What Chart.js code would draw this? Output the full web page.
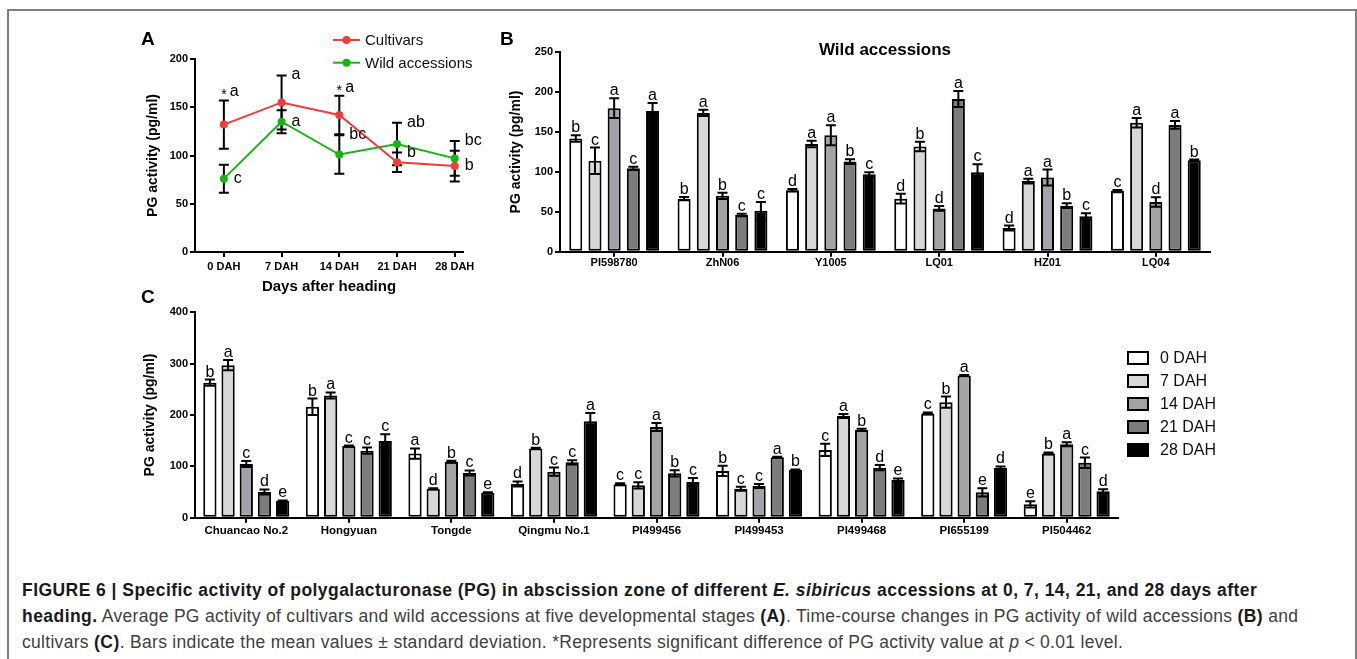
<!DOCTYPE html>
<html>
<head>
<meta charset="utf-8">
<script src="https://cdn.jsdelivr.net/npm/chart.js@4.4.1/dist/chart.umd.min.js"></script>
<style>
  body { margin:0; width:1357px; height:659px; background:#fff; position:relative; overflow:hidden; font-family:"Liberation Sans", Arial, sans-serif; }
  .frame { position:absolute; left:7px; top:9px; width:1350px; height:700px; border:2px solid #7f7f7f; box-sizing:border-box; }
  .panel { position:absolute; font-weight:bold; font-size:19px; line-height:1; color:#000; z-index:2; }
  canvas { position:absolute; }
  .cap { position:absolute; left:22px; top:577px; font-size:17.5px; letter-spacing:0.3px; line-height:26px; color:#404040; white-space:nowrap; }
  .cap b { color:#1a1a1a; letter-spacing:0.45px; }
</style>
</head>
<body>
<div class="frame"></div>
<canvas id="chartA" width="360" height="270" style="left:130px;top:30px"></canvas>
<canvas id="chartB" width="720" height="275" style="left:500px;top:25px"></canvas>
<canvas id="chartC" width="1120" height="240" style="left:130px;top:300px"></canvas>
<div class="panel" style="left:141px;top:29px">A</div>
<div class="panel" style="left:500px;top:29px">B</div>
<div class="panel" style="left:141px;top:287px">C</div>
<div class="cap">
<b>FIGURE 6 | Specific activity of polygalacturonase (PG) in abscission zone of different <i>E. sibiricus</i> accessions at 0, 7, 14, 21, and 28 days after</b><br>
<b>heading.</b> Average PG activity of cultivars and wild accessions at five developmental stages <b>(A)</b>. Time-course changes in PG activity of wild accessions <b>(B)</b> and<br>
cultivars <b>(C)</b>. Bars indicate the mean values ± standard deviation. *Represents significant difference of PG activity value at <i>p</i> &lt; 0.01 level.
</div>
<script>
// ---- panel A data
const daysA = [0, 7, 14, 21, 28]
const dahLabels = ['0 DAH', '7 DAH', '14 DAH', '21 DAH', '28 DAH']
const cultMean = [132, 155, 142, 93, 89]
const cultSD = [25, 28, 20, 10, 16]
const cultLetters = ['*a', 'a', '*a', 'b', 'b']
const wildMean = [76, 135, 101, 112, 97]
const wildSD = [14.5, 12, 20, 22, 18]
const wildLetters = ['c', 'a', 'bc', 'ab', 'bc']

// ---- panel B data (wild accessions)
const wildNames = ['PI598780', 'ZhN06', 'Y1005', 'LQ01', 'HZ01', 'LQ04']
const wild0 = [142, 66.5, 77, 66.5, 29.7, 76]
const wild0sd = [4, 2, 1.5, 6, 3, 1.5]
const wild0let = ['b', 'b', 'd', 'd', 'd', 'c']
const wild7 = [114, 174, 135, 132, 88.6, 161.6]
const wild7sd = [16.5, 4, 4, 6, 3, 6]
const wild7let = ['c', 'a', 'a', 'b', 'a', 'a']
const wild14 = [180, 70, 146, 54.3, 93, 62.3]
const wild14sd = [12.5, 4, 12.5, 3, 10, 6]
const wild14let = ['a', 'b', 'a', 'd', 'a', 'd']
const wild21 = [104.5, 46, 113, 191.5, 57.7, 159]
const wild21sd = [2, 1.5, 3, 10, 3, 5]
const wild21let = ['c', 'c', 'b', 'a', 'b', 'a']
const wild28 = [176.4, 51.4, 97, 99.5, 44.3, 114.5]
const wild28sd = [10, 11, 2.5, 10, 4, 1]
const wild28let = ['a', 'c', 'c', 'c', 'c', 'b']

// ---- panel C data (cultivars)
const cultNames = ['Chuancao No.2', 'Hongyuan', 'Tongde', 'Qingmu No.1', 'PI499456', 'PI499453', 'PI499468', 'PI655199', 'PI504462']
const cult0 = [263, 216, 125, 65.6, 65, 91, 132, 203, 26]
const cult0sd = [6, 16, 10, 5, 2, 10, 12, 2, 6]
const cult0let = ['b', 'b', 'a', 'd', 'c', 'b', 'c', 'c', 'e']
const cult7 = [297, 238, 56.5, 135, 63, 56.5, 198, 225, 125]
const cult7sd = [10, 6, 1, 1, 6, 4, 4, 11, 2]
const cult7let = ['a', 'a', 'd', 'b', 'c', 'c', 'a', 'b', 'b']
const cult14 = [104.5, 139.6, 109, 89.6, 176.6, 61.7, 171, 277, 143]
const cult14sd = [6, 1, 2, 8, 8, 4, 2, 1, 4]
const cult14let = ['c', 'c', 'b', 'c', 'a', 'c', 'b', 'a', 'a']
const cult21 = [50, 130.5, 87, 107.8, 86.4, 117.5, 97.4, 49.4, 107]
const cult21sd = [5, 6, 5, 4, 6, 1, 5, 8, 10]
const cult21let = ['d', 'c', 'c', 'c', 'b', 'a', 'd', 'e', 'c']
const cult28 = [32.5, 149.4, 48.7, 188, 69.5, 93, 73.4, 96.8, 51.3]
const cult28sd = [1, 13, 1, 16, 8, 1, 3, 3, 4]
const cult28let = ['e', 'c', 'e', 'a', 'c', 'b', 'e', 'd', 'd']

const stageNames = ['0 DAH', '7 DAH', '14 DAH', '21 DAH', '28 DAH']
const stageFill = ['#ffffff', '#d8d8d8', '#a3a3a7', '#7c7c7c', '#000000']

const FONT = "'Liberation Sans', Arial, sans-serif"
Chart.defaults.font.family = FONT
Chart.defaults.color = '#000'

const valOf = (d) => (typeof d === 'object' ? d.y : d)

// error bars + letters
const errPlugin = {
    id: 'errbars',
    beforeDatasetsDraw(chart, args, opts) {
        if (opts.under) drawErr(chart)
    },
    afterDatasetsDraw(chart, args, opts) {
        if (!opts.under) drawErr(chart)
        drawLetters(chart, opts)
    }
}
function drawErr(chart) {
    const ctx = chart.ctx
    const ys = chart.scales.y
    chart.data.datasets.forEach((ds, di) => {
        const meta = chart.getDatasetMeta(di)
        ctx.save()
        ctx.strokeStyle = '#000'
        ctx.lineWidth = 2
        meta.data.forEach((el, i) => {
            const v = valOf(ds.data[i])
            const sd = ds.sd[i]
            const top = ys.getPixelForValue(v + sd)
            const bot = ys.getPixelForValue(v - sd)
            ctx.beginPath()
            ctx.moveTo(el.x, top); ctx.lineTo(el.x, bot)
            ctx.moveTo(el.x - 5, top); ctx.lineTo(el.x + 5, top)
            ctx.moveTo(el.x - 5, bot); ctx.lineTo(el.x + 5, bot)
            ctx.stroke()
        })
        ctx.restore()
    })
}
function drawLetters(chart, opts) {
    const ctx = chart.ctx
    const ys = chart.scales.y
    ctx.save()
    ctx.fillStyle = '#000'
    chart.data.datasets.forEach((ds, di) => {
        const meta = chart.getDatasetMeta(di)
        meta.data.forEach((el, i) => {
            const v = valOf(ds.data[i])
            let txt = ds.letters[i]
            const capY = ys.getPixelForValue(v + ds.sd[i])
            const place = opts.place ? opts.place[di][i] : 'bar'
            if (place === 'bar') {
                ctx.font = '16px ' + FONT
                ctx.textAlign = 'center'
                ctx.textBaseline = 'alphabetic'
                ctx.fillText(txt, el.x, capY - 3)
                return
            }
            if (place === 'above') {
                ctx.font = '14px ' + FONT
                ctx.textAlign = 'center'
                ctx.textBaseline = 'alphabetic'
                ctx.fillText('*', el.x, capY - 1)
                ctx.font = '16px ' + FONT
                ctx.textAlign = 'left'
                ctx.fillText(txt.replace('*', ''), el.x + 6, capY - 4)
                return
            }
            const y = place === 'cap' ? capY : el.y
            ctx.font = '16px ' + FONT
            ctx.textAlign = 'left'
            ctx.textBaseline = 'alphabetic'
            ctx.fillText(txt, el.x + 10, y + 4)
        })
    })
    ctx.restore()
}

const tickFont = { family: FONT, size: 11, weight: 'bold' }
const gridStyle = { display: true, drawOnChartArea: false, drawTicks: true, tickLength: 5, lineWidth: 2, color: '#000', offset: false }
const borderStyle = { display: true, color: '#000', width: 2 }
const yTitle = (pad) => ({ display: true, text: 'PG activity (pg/ml)', color: '#000', font: { family: FONT, size: 14, weight: 'bold' }, padding: { top: pad, bottom: 0 } })

// ---------------- Panel A
const legendA = {
    id: 'legendA',
    afterDraw(chart) {
        const ctx = chart.ctx
        const rows = [10, 32.7]
        chart.data.datasets.forEach((ds, i) => {
            ctx.save()
            ctx.strokeStyle = ds.borderColor
            ctx.lineWidth = 2
            ctx.beginPath(); ctx.moveTo(203, rows[i]); ctx.lineTo(230, rows[i]); ctx.stroke()
            ctx.fillStyle = ds.borderColor
            ctx.beginPath(); ctx.arc(216.5, rows[i], 4, 0, Math.PI * 2); ctx.fill()
            ctx.fillStyle = '#111'
            ctx.font = '15px ' + FONT
            ctx.textBaseline = 'middle'
            ctx.fillText(ds.label, 235, rows[i] + 1)
            ctx.restore()
        })
    }
}
new Chart(document.getElementById('chartA'), {
    type: 'line',
    data: {
        datasets: [
            { label: 'Cultivars', data: daysA.map((d, i) => ({ x: d, y: cultMean[i] })), sd: cultSD, letters: cultLetters,
              borderColor: '#ef3c3c', backgroundColor: '#ef3c3c', borderWidth: 2, pointRadius: 4, pointBorderWidth: 0 },
            { label: 'Wild accessions', data: daysA.map((d, i) => ({ x: d, y: wildMean[i] })), sd: wildSD, letters: wildLetters,
              borderColor: '#16b416', backgroundColor: '#16b416', borderWidth: 2, pointRadius: 4, pointBorderWidth: 0 }
        ]
    },
    options: {
        responsive: false, animation: false, devicePixelRatio: 1,
        layout: { padding: { top: 29, right: 27, left: 0, bottom: 0 } },
        plugins: {
            legend: { display: false }, tooltip: { enabled: false },
            errbars: { under: true, place: [['above', 'cap', 'above', 'cap', 'pt'], ['pt', 'pt', 'cap', 'cap', 'cap']] }
        },
        scales: {
            x: {
                type: 'linear', min: -3.5, max: 29,
                afterBuildTicks: s => { s.ticks = daysA.map(v => ({ value: v })) },
                afterFit: s => { s.height = 48 },
                ticks: { font: tickFont, padding: 3, maxRotation: 0, callback: (v) => dahLabels[daysA.indexOf(v)] },
                grid: gridStyle, border: borderStyle,
                title: { display: true, text: 'Days after heading', color: '#000', font: { family: FONT, size: 15, weight: 'bold' }, padding: { top: 0, bottom: 4 } }
            },
            y: {
                min: 0, max: 200,
                afterFit: s => { s.width = 65 },
                ticks: { stepSize: 50, font: tickFont, padding: 2 },
                grid: gridStyle, border: borderStyle, title: yTitle(15)
            }
        }
    },
    plugins: [errPlugin, legendA]
})

// ---------------- bar panels
const titlePlugin = {
    id: 'midTitle',
    afterDraw(chart, args, opts) {
        const ctx = chart.ctx
        const a = chart.chartArea
        ctx.save()
        ctx.font = 'bold 17px ' + FONT
        ctx.fillStyle = '#000'
        ctx.textAlign = 'center'
        ctx.textBaseline = 'middle'
        ctx.fillText(opts.text, (a.left + a.right) / 2, opts.y)
        ctx.restore()
    }
}
const barSets = (vals, sds, lets) => vals.map((v, i) => ({
    label: stageNames[i], data: v, sd: sds[i], letters: lets[i],
    backgroundColor: stageFill[i], borderColor: '#000', borderWidth: 2, borderSkipped: false
}))

new Chart(document.getElementById('chartB'), {
    type: 'bar',
    data: {
        labels: wildNames,
        datasets: barSets([wild0, wild7, wild14, wild21, wild28],
                          [wild0sd, wild7sd, wild14sd, wild21sd, wild28sd],
                          [wild0let, wild7let, wild14let, wild21let, wild28let])
    },
    options: {
        responsive: false, animation: false, devicePixelRatio: 1,
        categoryPercentage: 0.886, barPercentage: 0.68,
        layout: { padding: { top: 27.3, right: 10, left: 0, bottom: 0 } },
        plugins: {
            legend: { display: false }, tooltip: { enabled: false },
            errbars: { under: false },
            midTitle: { text: 'Wild accessions', y: 25 }
        },
        scales: {
            x: {
                afterFit: s => { s.height = 48.3 },
                ticks: { font: tickFont, padding: 0, maxRotation: 0 },
                grid: gridStyle, border: borderStyle
            },
            y: {
                min: 0, max: 250,
                afterFit: s => { s.width = 60 },
                ticks: { stepSize: 50, font: tickFont, padding: 2 },
                grid: gridStyle, border: borderStyle, title: yTitle(8)
            }
        }
    },
    plugins: [errPlugin, titlePlugin]
})

const legendC = {
    id: 'legendC',
    afterDraw(chart) {
        const ctx = chart.ctx
        chart.data.datasets.forEach((ds, i) => {
            const y = 58 + i * 23
            ctx.save()
            ctx.fillStyle = ds.backgroundColor
            ctx.fillRect(998, y - 6, 20, 12)
            ctx.strokeStyle = '#000'
            ctx.lineWidth = 2
            ctx.strokeRect(998, y - 6, 20, 12)
            ctx.fillStyle = '#111'
            ctx.font = '16px ' + FONT
            ctx.textBaseline = 'middle'
            ctx.fillText(ds.label, 1030, y + 1)
            ctx.restore()
        })
    }
}
new Chart(document.getElementById('chartC'), {
    type: 'bar',
    data: {
        labels: cultNames,
        datasets: barSets([cult0, cult7, cult14, cult21, cult28],
                          [cult0sd, cult7sd, cult14sd, cult21sd, cult28sd],
                          [cult0let, cult7let, cult14let, cult21let, cult28let])
    },
    options: {
        responsive: false, animation: false, devicePixelRatio: 1,
        categoryPercentage: 0.887, barPercentage: 0.73,
        layout: { padding: { top: 12.3, right: 132, left: 0, bottom: 0 } },
        plugins: {
            legend: { display: false }, tooltip: { enabled: false },
            errbars: { under: false },
            midTitle: { text: 'Cultivars', y: 27 }
        },
        scales: {
            x: {
                afterFit: s => { s.height = 22.3 },
                ticks: { font: { family: FONT, size: 11.5, weight: 'bold' }, padding: 1, maxRotation: 0, autoSkip: false },
                grid: gridStyle, border: borderStyle
            },
            y: {
                min: 0, max: 400,
                afterFit: s => { s.width = 65 },
                ticks: { stepSize: 100, font: tickFont, padding: 2 },
                grid: gridStyle, border: borderStyle, title: yTitle(12)
            }
        }
    },
    plugins: [errPlugin, legendC]
})
</script>
</body>
</html>
